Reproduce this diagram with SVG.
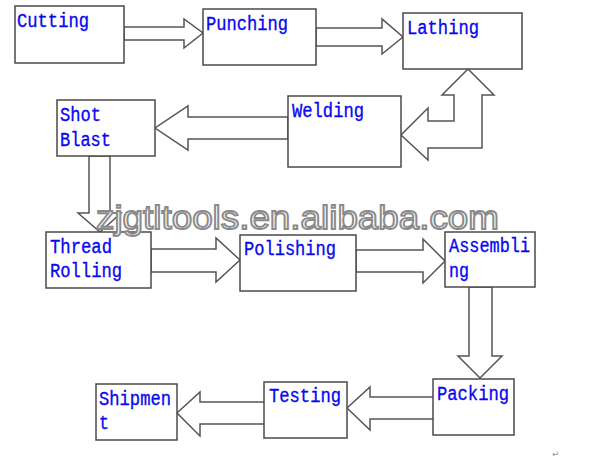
<svg xmlns="http://www.w3.org/2000/svg" width="598" height="461" viewBox="0 0 598 461">
<style>
.box{fill:#fff;stroke:#4a4a4a;stroke-width:1.5}
.arr{fill:#fff;stroke:#555;stroke-width:1.5;stroke-linejoin:miter}
.lbl{font-family:"Liberation Mono",monospace;font-size:20px;fill:#0808f0;stroke:#0808f0;stroke-width:0.35}
.wm{font-family:"Liberation Sans",Arial,sans-serif;font-size:34px;fill:#fff;stroke:#8a8a8a;stroke-width:1.8}
</style>
<rect width="598" height="461" fill="#fff"/>
<g id="connectors">
<polygon class="arr" points="124,27 184,27 184,19 203,33 184,48 184,40 124,40"/>
<polygon class="arr" points="316,28 382,28 382,19 403,37 382,54 382,46 316,46"/>
<polygon class="arr" points="468,69 494,95 482,95 482,148 428,148 428,160 401,135 428,108 428,121 454,121 454,95 442,95"/>
<polygon class="arr" points="288,117 188,117 188,106 155,128 188,150 188,139 288,139"/>
<polygon class="arr" points="89,156 110,156 110,213 121,213 100,232 78,213 89,213"/>
<polygon class="arr" points="151,249 216,249 216,238 240,260 216,282 216,272 151,272"/>
<polygon class="arr" points="356,250 423,250 423,239 445,261 423,283 423,272 356,272"/>
<polygon class="arr" points="469,287 492,287 492,356 502,356 480,378 458,356 469,356"/>
<polygon class="arr" points="436,397 370,397 370,387 347,408 370,430 370,419 436,419"/>
<polygon class="arr" points="266,402 200,402 200,392 177,413 200,436 200,424 266,424"/>
</g>
<g id="cutting"><rect class="box" x="15" y="6" width="109" height="57"/><text class="lbl" x="17" y="27" textLength="72" lengthAdjust="spacingAndGlyphs">Cutting</text></g>
<g id="punching"><rect class="box" x="203" y="9" width="113" height="56"/><text class="lbl" x="206" y="30" textLength="82" lengthAdjust="spacingAndGlyphs">Punching</text></g>
<g id="lathing"><rect class="box" x="403" y="13" width="119" height="56"/><text class="lbl" x="407" y="34" textLength="72" lengthAdjust="spacingAndGlyphs">Lathing</text></g>
<g id="welding"><rect class="box" x="288" y="96" width="113" height="71"/><text class="lbl" x="292" y="117" textLength="72" lengthAdjust="spacingAndGlyphs">Welding</text></g>
<g id="shot-blast"><rect class="box" x="57" y="100" width="98" height="56"/><text class="lbl" x="60" y="121" textLength="41" lengthAdjust="spacingAndGlyphs">Shot</text><text class="lbl" x="60" y="146" textLength="51" lengthAdjust="spacingAndGlyphs">Blast</text></g>
<g id="thread-rolling"><rect class="box" x="46" y="232" width="105" height="56"/><text class="lbl" x="50" y="253" textLength="62" lengthAdjust="spacingAndGlyphs">Thread</text><text class="lbl" x="50" y="277" textLength="72" lengthAdjust="spacingAndGlyphs">Rolling</text></g>
<g id="polishing"><rect class="box" x="240" y="235" width="116" height="56"/><text class="lbl" x="244" y="255" textLength="92" lengthAdjust="spacingAndGlyphs">Polishing</text></g>
<g id="assembling"><rect class="box" x="445" y="232" width="90" height="55"/><text class="lbl" x="449" y="252" textLength="81" lengthAdjust="spacingAndGlyphs">Assembli</text><text class="lbl" x="449" y="277" textLength="20" lengthAdjust="spacingAndGlyphs">ng</text></g>
<g id="packing"><rect class="box" x="433" y="379" width="81" height="56"/><text class="lbl" x="437" y="400" textLength="72" lengthAdjust="spacingAndGlyphs">Packing</text></g>
<g id="testing"><rect class="box" x="264" y="382" width="83" height="56"/><text class="lbl" x="269" y="402" textLength="72" lengthAdjust="spacingAndGlyphs">Testing</text></g>
<g id="shipment"><rect class="box" x="96" y="384" width="81" height="56"/><text class="lbl" x="99" y="405" textLength="72" lengthAdjust="spacingAndGlyphs">Shipmen</text><text class="lbl" x="99" y="429" textLength="10" lengthAdjust="spacingAndGlyphs">t</text></g>
<text class="wm" x="96" y="229" textLength="403" lengthAdjust="spacingAndGlyphs">zjgtltools.en.alibaba.com</text>
<text x="552" y="457" font-family="DejaVu Sans,sans-serif" font-size="9" fill="#999">↵</text>
</svg>
